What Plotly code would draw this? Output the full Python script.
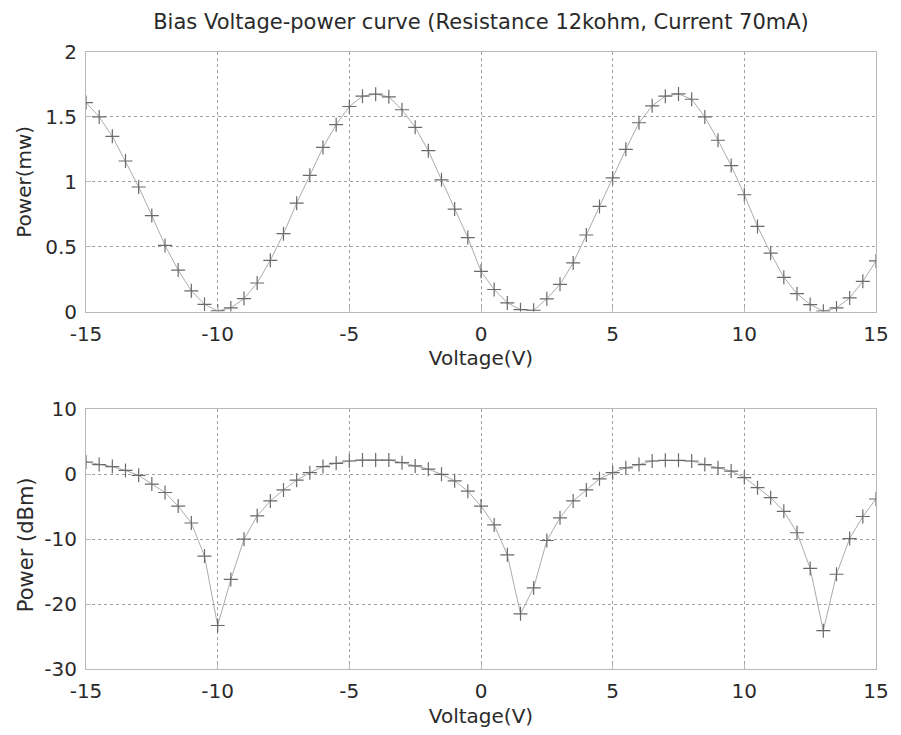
import plotly.graph_objects as go
from plotly.subplots import make_subplots

voltage = [-15, -14.5, -14, -13.5, -13, -12.5, -12, -11.5, -11, -10.5,
           -10, -9.5, -9, -8.5, -8, -7.5, -7, -6.5, -6, -5.5,
           -5, -4.5, -4, -3.5, -3, -2.5, -2, -1.5, -1, -0.5,
           0, 0.5, 1, 1.5, 2, 2.5, 3, 3.5, 4, 4.5,
           5, 5.5, 6, 6.5, 7, 7.5, 8, 8.5, 9, 9.5,
           10, 10.5, 11, 11.5, 12, 12.5, 13, 13.5, 14, 14.5, 15]

power_mw = [1.61, 1.50, 1.35, 1.16, 0.96, 0.74, 0.51, 0.32, 0.16, 0.056,
            0.005, 0.028, 0.10, 0.22, 0.395, 0.60, 0.835, 1.05, 1.265, 1.44,
            1.58, 1.66, 1.675, 1.655, 1.555, 1.42, 1.24, 1.015, 0.79, 0.57,
            0.31, 0.17, 0.067, 0.015, 0.01, 0.098, 0.21, 0.375, 0.59, 0.81,
            1.03, 1.25, 1.455, 1.585, 1.66, 1.677, 1.636, 1.50, 1.32, 1.125,
            0.90, 0.656, 0.45, 0.264, 0.138, 0.054, 0.003, 0.028, 0.105, 0.233, 0.39]

power_dbm = [1.9, 1.5, 1.2, 0.6, -0.15, -1.5, -2.8, -4.9, -7.5, -12.6,
             -23.3, -16.2, -10.0, -6.4, -4.1, -2.4, -0.9, 0.25, 1.2, 1.7,
             2.05, 2.2, 2.2, 2.2, 1.8, 1.3, 0.8, 0.0, -1.0, -2.6,
             -4.9, -7.8, -12.4, -21.5, -17.5, -10.2, -6.7, -4.1, -2.4, -0.7,
             0.25, 1.0, 1.5, 2.05, 2.15, 2.15, 2.05, 1.5, 1.0, 0.5,
             -0.5, -2.05, -3.6, -5.7, -9.0, -14.5, -24.1, -15.4, -9.9, -6.5, -3.8]

x_ticks = [-15, -10, -5, 0, 5, 10, 15]
x_tick_text = ["-15", "-10", "-5", "0", "5", "10", "15"]
y1_ticks = [0, 0.5, 1, 1.5, 2]
y1_tick_text = ["0", "0.5", "1", "1.5", "2"]
y2_ticks = [-30, -20, -10, 0, 10]
y2_tick_text = ["-30", "-20", "-10", "0", "10"]

title_text = "Bias Voltage-power curve (Resistance 12kohm, Current 70mA)"
FONT = "DejaVu Sans"
TXT = "#2a2a2a"

fig = make_subplots(rows=2, cols=1, vertical_spacing=0.1586)

marker = dict(symbol="cross-thin-open", size=10, line=dict(width=1.2, color="#6a6a6a"), color="#6a6a6a")
line = dict(color="#ababab", width=1)

fig.add_trace(go.Scatter(x=voltage, y=power_mw, mode="lines+markers",
                         marker=marker, line=line, showlegend=False), row=1, col=1)
fig.add_trace(go.Scatter(x=voltage, y=power_dbm, mode="lines+markers",
                         marker=marker, line=line, showlegend=False), row=2, col=1)

axis_common = dict(
    showgrid=True, gridcolor="#a0a0a0", griddash="dot", gridwidth=1,
    showline=True, linecolor="#b8b8b8", linewidth=1, mirror=True,
    ticks="inside", ticklen=5, tickcolor="#b8b8b8",
    zeroline=False,
    tickfont=dict(family=FONT, size=20, color=TXT),
)

for r in (1, 2):
    fig.update_xaxes(range=[-15, 15], tickvals=x_ticks, ticktext=x_tick_text, ticklabelstandoff=4,
                     title=dict(text="Voltage(V)", font=dict(family=FONT, size=20, color=TXT), standoff=6),
                     row=r, col=1, **axis_common)

fig.update_yaxes(range=[0, 2], tickvals=y1_ticks, ticktext=y1_tick_text, ticklabelstandoff=4,
                 row=1, col=1, **axis_common)
fig.update_yaxes(range=[-30, 10], tickvals=y2_ticks, ticktext=y2_tick_text, ticklabelstandoff=4,
                 row=2, col=1, **axis_common)

fig.add_annotation(text="Power(mw)", xref="paper", yref="y domain", x=0, y=0.5,
                   xshift=-62, xanchor="center", yanchor="middle", textangle=-90,
                   showarrow=False, font=dict(family=FONT, size=20, color=TXT))
fig.add_annotation(text="Power (dBm)", xref="paper", yref="y2 domain", x=0, y=0.5,
                   xshift=-60, yshift=-6, xanchor="center", yanchor="middle", textangle=-90,
                   showarrow=False, font=dict(family=FONT, size=21, color=TXT))

fig.update_layout(
    width=901, height=735,
    margin=dict(l=86, r=16, t=52, b=65),
    paper_bgcolor="white", plot_bgcolor="white",
    font=dict(family=FONT, size=20, color=TXT),
    title=dict(text=title_text, x=0.5, xanchor="center", xref="paper",
               y=1 - 22 / 735, yanchor="middle", yref="container",
               font=dict(family=FONT, size=21, color=TXT)),
)

fig.write_html("out.html")
